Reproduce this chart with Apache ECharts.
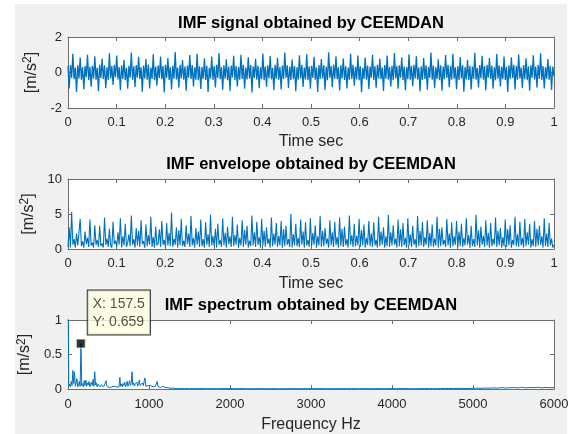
<!DOCTYPE html>
<html>
<head>
<meta charset="utf-8">
<script src="https://cdn.jsdelivr.net/npm/echarts@6/dist/echarts.min.js"></script>
<style>
html,body{margin:0;padding:0;background:#fff;}
#bg{position:absolute;left:15px;top:4px;width:552px;height:430px;background:#F0F0F0;}
#chart{position:absolute;left:0;top:0;width:573px;height:434px;}
</style>
</head>
<body>
<div id="bg"></div>
<div id="chart"></div>
<script>
// ---- data ----
const titles = ['IMF signal obtained by CEEMDAN', 'IMF envelope obtained by CEEMDAN', 'IMF spectrum obtained by CEEMDAN'];
const xNames = ['Time sec', 'Time sec', 'Frequency Hz'];
const yName = '[m/s{sup|2}]';

// IMF signal, 0..1 s
const signalValues = [
0.35,-0.9,0.42,-0.3,1.05,-0.38,0.28,-1.1,0.4,-0.33,0.85,-0.41,0.3,-0.95,0.36,-0.27,1.0,-0.44,0.32,-0.8,
0.38,-0.35,0.92,-0.4,0.26,-1.05,0.44,-0.31,0.78,-0.37,0.41,-0.88,0.29,-0.42,1.08,-0.34,0.37,-0.7,0.43,-0.28,
0.95,-0.39,0.31,-1.0,0.4,-0.36,0.72,-0.43,0.27,-0.92,0.38,-0.3,1.12,-0.41,0.35,-0.82,0.42,-0.29,0.88,-0.37,
0.3,-1.08,0.39,-0.34,0.76,-0.4,0.45,-0.9,0.28,-0.36,1.02,-0.43,0.33,-0.75,0.41,-0.31,0.9,-0.38,0.36,-1.12,
0.43,-0.29,0.82,-0.42,0.3,-0.96,0.37,-0.35,1.15,-0.39,0.28,-0.85,0.44,-0.33,0.7,-0.41,0.34,-1.02,0.39,-0.3,
0.98,-0.36,0.42,-0.78,0.29,-0.4,1.05,-0.44,0.35,-0.93,0.31,-0.37,0.8,-0.42,0.38,-1.1,0.27,-0.34,0.9,-0.4,
0.36,-0.84,0.43,-0.31,1.1,-0.38,0.3,-0.97,0.41,-0.35,0.74,-0.43,0.33,-1.04,0.39,-0.28,0.94,-0.42,0.37,-0.79,
0.31,-0.4,1.0,-0.36,0.44,-0.91,0.28,-0.39,0.86,-0.33,0.42,-1.13,0.35,-0.3,0.77,-0.41,0.38,-0.88,0.29,-0.37,
1.07,-0.43,0.34,-0.8,0.4,-0.32,0.93,-0.38,0.27,-1.0,0.43,-0.35,0.83,-0.4,0.31,-0.95,0.39,-0.36,1.12,-0.29,
0.41,-0.87,0.33,-0.42,0.73,-0.37,0.36,-1.06,0.3,-0.4,0.97,-0.34,0.44,-0.81,0.28,-0.39,1.03,-0.43,0.35,-0.92,
0.38,-0.31,0.89,-0.41,0.29,-1.09,0.42,-0.36,0.76,-0.33,0.4,-0.98,0.34,-0.44,1.14,-0.3,0.37,-0.83,0.43,-0.35,
0.91,-0.38,0.3,-1.01,0.41,-0.34,0.79,-0.42,0.36,-0.9,0.28,-0.4,1.06,-0.37,0.44,-0.74,0.32,-0.39,0.96,-0.43,
0.35,-1.11,0.27,-0.36,0.84,-0.41,0.39,-0.93,0.33,-0.3,1.0,-0.42,0.37,-0.86,0.43,-0.34,0.78,-0.38,0.29,-1.04,
0.42,-0.35,0.95,-0.4,0.31,-0.8,0.38,-0.43,1.09,-0.32,0.36,-0.91,0.4,-0.29,0.85,-0.44,0.34,-1.0,0.3,-0.38,
1.03,-0.41,0.37,-0.77,0.43,-0.33,0.92,-0.39,0.28,-1.07,0.35,-0.42,0.81,-0.36,0.4,-0.97,0.32,-0.3,1.13,-0.4,
0.39,-0.89,0.3,-0.37,0.75,-0.43,0.41,-1.02,0.34,-0.38,0.99,-0.31,0.44,-0.83,0.36,-0.4,1.05,-0.35,0.29,-0.94,
0.37,-0.42,0.87,-0.34,0.4,-1.08,0.31,-0.39,0.72,-0.44,0.38,-0.96,0.33,-0.36,1.11,-0.41,0.27,-0.84,0.42,-0.32,
0.94,-0.4,0.36,-1.0,0.43,-0.3,0.82,-0.37,0.39,-0.92,0.3,-0.43,1.04,-0.35,0.41,-0.78,0.34,-0.38,0.9,-0.42,
0.32,-1.1,0.4,-0.36,0.86,-0.31,0.44,-0.95,0.37,-0.4,1.01,-0.33,0.29,-0.87,0.42,-0.38,0.8,-0.44,0.35,-1.03,
0.41,-0.3,0.97,-0.39,0.33,-0.85,0.43,-0.37,1.08,-0.42,0.36,-0.9,0.3,-0.35,0.76,-0.41,0.38,-0.99,0.34,-0.2
];

// IMF envelope, 0..1 s
const envelopeValues = [
0.3,3.1,0.2,5.3,0.6,1.4,0.2,2.2,0.5,0.3,4.3,0.4,1.1,0.2,2.5,0.7,1.6,0.3,4.2,0.5,
0.9,0.2,3.4,0.6,1.3,0.3,3.3,0.4,0.8,0.2,4.5,0.6,1.5,0.3,2.9,0.5,0.2,3.9,0.7,1.2,
0.3,2.4,0.6,4.4,0.2,1.8,0.5,3.6,0.3,0.9,2.1,0.4,4.8,0.6,1.4,0.2,3.0,0.5,2.6,0.3,
4.1,0.7,1.1,0.2,3.5,0.4,2.0,0.6,4.6,0.3,1.7,0.2,3.2,0.5,0.8,2.8,0.3,4.0,0.6,1.3,
0.2,3.7,0.5,2.3,0.4,5.2,0.3,1.5,0.6,3.1,0.2,2.7,0.5,4.3,0.4,1.2,0.3,3.4,0.7,2.2,
0.3,4.7,0.5,1.6,0.2,3.0,0.6,2.5,0.3,4.2,0.4,1.4,0.2,3.8,0.6,2.1,0.3,4.9,0.5,1.9,
0.4,2.9,0.2,3.6,0.6,1.3,0.3,4.4,0.5,2.3,0.2,3.2,0.7,1.8,0.3,4.6,0.4,2.0,0.6,3.5,
0.2,1.6,0.5,4.1,0.3,2.7,0.6,3.3,0.2,1.2,0.4,4.8,0.5,2.4,0.3,3.9,0.6,1.7,0.2,4.3,
0.5,2.6,0.3,3.1,0.7,1.5,0.2,4.5,0.4,2.2,0.6,3.7,0.3,1.9,0.5,4.0,0.2,2.8,0.4,3.3,
0.6,1.4,0.3,5.0,0.2,2.1,0.5,3.6,0.4,1.6,0.3,4.2,0.6,2.5,0.2,3.8,0.5,1.3,0.3,4.4,
0.4,2.3,0.6,3.4,0.2,1.8,0.5,4.7,0.3,2.6,0.4,3.0,0.7,1.5,0.2,4.1,0.5,2.4,0.3,3.9,
0.6,1.7,0.2,4.5,0.4,2.9,0.3,3.2,0.5,1.4,0.2,4.8,0.6,2.0,0.3,3.6,0.4,1.9,0.5,4.3,
0.3,2.7,0.5,3.5,0.2,1.6,0.6,4.0,0.4,2.2,0.3,3.8,0.5,1.3,0.2,4.6,0.4,2.5,0.6,3.1,
0.2,1.8,0.4,4.9,0.3,2.4,0.5,3.4,0.6,1.5,0.2,4.2,0.4,2.8,0.3,3.7,0.5,1.6,0.2,4.4,
0.5,2.1,0.3,3.3,0.6,1.4,0.2,4.7,0.4,2.6,0.5,3.9,0.3,1.7,0.6,4.1,0.2,2.3,0.4,3.5,
0.3,1.5,0.5,4.6,0.2,2.9,0.4,3.1,0.6,1.3,0.3,4.3,0.5,2.2,0.2,3.8,0.4,1.8,0.6,4.0,
0.2,2.5,0.4,3.6,0.3,1.6,0.5,4.4,0.6,2.0,0.2,3.3,0.4,1.4,0.3,4.9,0.5,2.7,0.2,3.2,
0.6,1.9,0.3,4.1,0.5,2.3,0.2,3.7,0.4,1.5,0.6,4.5,0.3,2.6,0.5,3.0,0.2,1.7,0.4,4.2,
0.3,2.8,0.5,3.4,0.2,1.3,0.6,4.6,0.4,2.1,0.3,3.9,0.5,1.6,0.2,4.3,0.4,2.4,0.6,3.6,
0.2,1.4,0.4,4.0,0.3,2.9,0.5,3.3,0.6,1.8,0.2,4.4,0.4,2.2,0.3,3.7,0.5,1.5,0.2,0.6
];

// IMF spectrum, 0..1500 Hz in 10 Hz bins
const spectrumLow = [
1.6,0.04,0.07,0.03,0.11,0.05,0.27,0.08,0.25,0.04,
0.09,0.15,0.03,0.06,0.11,0.04,0.659,0.05,0.08,0.03,
0.12,0.05,0.13,0.04,0.09,0.06,0.11,0.03,0.07,0.1,
0.05,0.14,0.04,0.25,0.06,0.09,0.03,0.07,0.05,0.08,
0.03,0.06,0.04,0.07,0.03,0.05,0.09,0.12,0.04,0.02,
0.03,0.02,0.04,0.02,0.03,0.05,0.02,0.04,0.03,0.06,
0.03,0.05,0.04,0.03,0.17,0.04,0.07,0.03,0.08,0.05,
0.1,0.03,0.06,0.11,0.04,0.07,0.12,0.05,0.08,0.25,
0.06,0.09,0.04,0.07,0.05,0.1,0.04,0.08,0.13,0.05,
0.07,0.03,0.09,0.05,0.11,0.16,0.04,0.06,0.03,0.05,
0.07,0.03,0.05,0.04,0.06,0.03,0.05,0.02,0.04,0.03,
0.11,0.04,0.03,0.05,0.02,0.03,0.02,0.04,0.02,0.03,
0.02,0.025,0.015,0.02,0.015,0.02,0.01,0.015,0.01,0.012,
0.008,0.007,0.01,0.006,0.009,0.005,0.008,0.006,0.01,0.005,
0.007,0.006,0.009,0.005,0.007,0.006,0.008,0.005,0.006,0.007,
0.005
];
// IMF spectrum, 1550..6000 Hz in 50 Hz bins
const spectrumHigh = [
0.006,0.005,0.007,0.004,0.006,0.005,0.004,0.006,0.005,0.007,
0.004,0.005,0.006,0.004,0.005,0.004,0.006,0.005,0.004,0.005,
0.006,0.004,0.005,0.004,0.005,0.006,0.004,0.005,0.004,0.005,
0.004,0.006,0.005,0.004,0.005,0.004,0.005,0.006,0.004,0.005,
0.005,0.004,0.006,0.005,0.004,0.005,0.006,0.004,0.005,0.006,
0.004,0.005,0.006,0.005,0.004,0.006,0.005,0.007,0.005,0.006,
0.005,0.007,0.006,0.008,0.006,0.007,0.009,0.007,0.008,
0.01,0.012,0.009,0.014,0.011,0.016,0.012,0.02,0.014,0.018,0.022,0.015,0.024,0.017,0.021,0.019,0.025,0.016,0.022,0.018,0.02
];

// data tip
const tipX = 157.5;
const tipY = 0.659;

// ---- build ----
const LINE = '#0072BD';
const AX = '#6e6e6e';
const TXT = '#262626';
const FONT = 'Liberation Sans, Arial, sans-serif';

const signalData = signalValues.map((v, i) => [i / (signalValues.length - 1), v]);
const envelopeData = envelopeValues.map((v, i) => [i / (envelopeValues.length - 1), v]);
const spectrumData = spectrumLow.map((v, i) => [i * 10, v])
  .concat(spectrumHigh.map((v, i) => [1550 + i * 50, v]));

const grids = [
  {left: 68, top: 37, width: 486, height: 71},
  {left: 68, top: 179, width: 486, height: 70},
  {left: 68, top: 320, width: 486, height: 69}
].map(g => Object.assign(g, {show: true, backgroundColor: '#fff', borderWidth: 0}));

const xCfg = [
  {min: 0, max: 1, interval: 0.1, gap: 26, margin: 8},
  {min: 0, max: 1, interval: 0.1, gap: 27, margin: 8},
  {min: 0, max: 6000, interval: 1000, gap: 28, margin: 9}
];
const yCfg = [
  {min: -2, max: 2, interval: 2, gap: 24},
  {min: 0, max: 10, interval: 5, gap: 27},
  {min: 0, max: 1, interval: 0.5, gap: 30}
];

const xAxes = [], yAxes = [];
for (let k = 0; k < 3; k++) {
  const c = xCfg[k];
  ['bottom', 'top'].forEach(pos => {
    xAxes.push({
      type: 'value', gridIndex: k, position: pos, min: c.min, max: c.max, interval: c.interval,
      name: pos === 'bottom' ? xNames[k] : '', nameLocation: 'middle', nameGap: c.gap,
      nameTextStyle: {fontSize: 16, color: TXT, fontFamily: FONT},
      axisLine: {show: true, onZero: false, lineStyle: {color: AX, width: 1}},
      axisTick: {show: true, inside: true, length: 4, lineStyle: {color: AX}},
      axisLabel: {show: pos === 'bottom', fontSize: 13, color: TXT, fontFamily: FONT, margin: c.margin,
                  showMinLabel: true, showMaxLabel: true, formatter: v => String(v)},
      splitLine: {show: false}
    });
  });
  const d = yCfg[k];
  ['left', 'right'].forEach(pos => {
    yAxes.push({
      type: 'value', gridIndex: k, position: pos, min: d.min, max: d.max, interval: d.interval,
      name: pos === 'left' ? yName : '', nameLocation: 'middle', nameGap: d.gap, nameRotate: 90,
      nameTextStyle: {fontSize: 16, color: TXT, fontFamily: FONT,
        rich: {sup: {fontSize: 12, color: TXT, fontFamily: FONT, verticalAlign: 'top', padding: [0, 0, 7, 0]}}},
      axisLine: {show: true, onZero: false, lineStyle: {color: AX, width: 1}},
      axisTick: {show: true, inside: true, length: 4, lineStyle: {color: AX}},
      axisLabel: {show: pos === 'left', fontSize: 13, color: TXT, fontFamily: FONT, margin: 6,
                  formatter: v => String(v)},
      splitLine: {show: false}
    });
  });
}

const titleTops = [15, 156, 297];
const option = {
  animation: false,
  backgroundColor: 'transparent',
  title: titles.map((t, i) => ({
    text: t, left: 311, top: titleTops[i], textAlign: 'center', padding: 0,
    textStyle: {fontSize: 16.5, fontWeight: 'bold', color: '#000', fontFamily: FONT}
  })),
  grid: grids,
  xAxis: xAxes,
  yAxis: yAxes,
  series: [
    {type: 'line', xAxisIndex: 0, yAxisIndex: 0, data: signalData, showSymbol: false, clip: true,
     lineStyle: {color: LINE, width: 1.3}, silent: true},
    {type: 'line', xAxisIndex: 2, yAxisIndex: 2, data: envelopeData, showSymbol: false, clip: true,
     lineStyle: {color: LINE, width: 1.1}, silent: true},
    {type: 'line', xAxisIndex: 4, yAxisIndex: 4, data: spectrumData, showSymbol: false, clip: true,
     lineStyle: {color: LINE, width: 1}, silent: true},
    {type: 'scatter', xAxisIndex: 4, yAxisIndex: 4, data: [[tipX, tipY]], symbol: 'rect', symbolSize: 9,
     itemStyle: {color: '#000', borderColor: '#FFFFE1', borderWidth: 1}, z: 10, silent: true,
     label: {show: true, position: [12, -48], formatter: 'X: ' + tipX + '\nY: ' + tipY,
       fontSize: 14, lineHeight: 18, color: TXT, fontFamily: FONT, align: 'left', verticalAlign: 'top',
       backgroundColor: '#FFFFE1', borderColor: '#000', borderWidth: 1, padding: [5, 5, 3, 5]}}
  ]
};

const chart = echarts.init(document.getElementById('chart'), null, {renderer: 'canvas'});
chart.setOption(option);
</script>
</body>
</html>
